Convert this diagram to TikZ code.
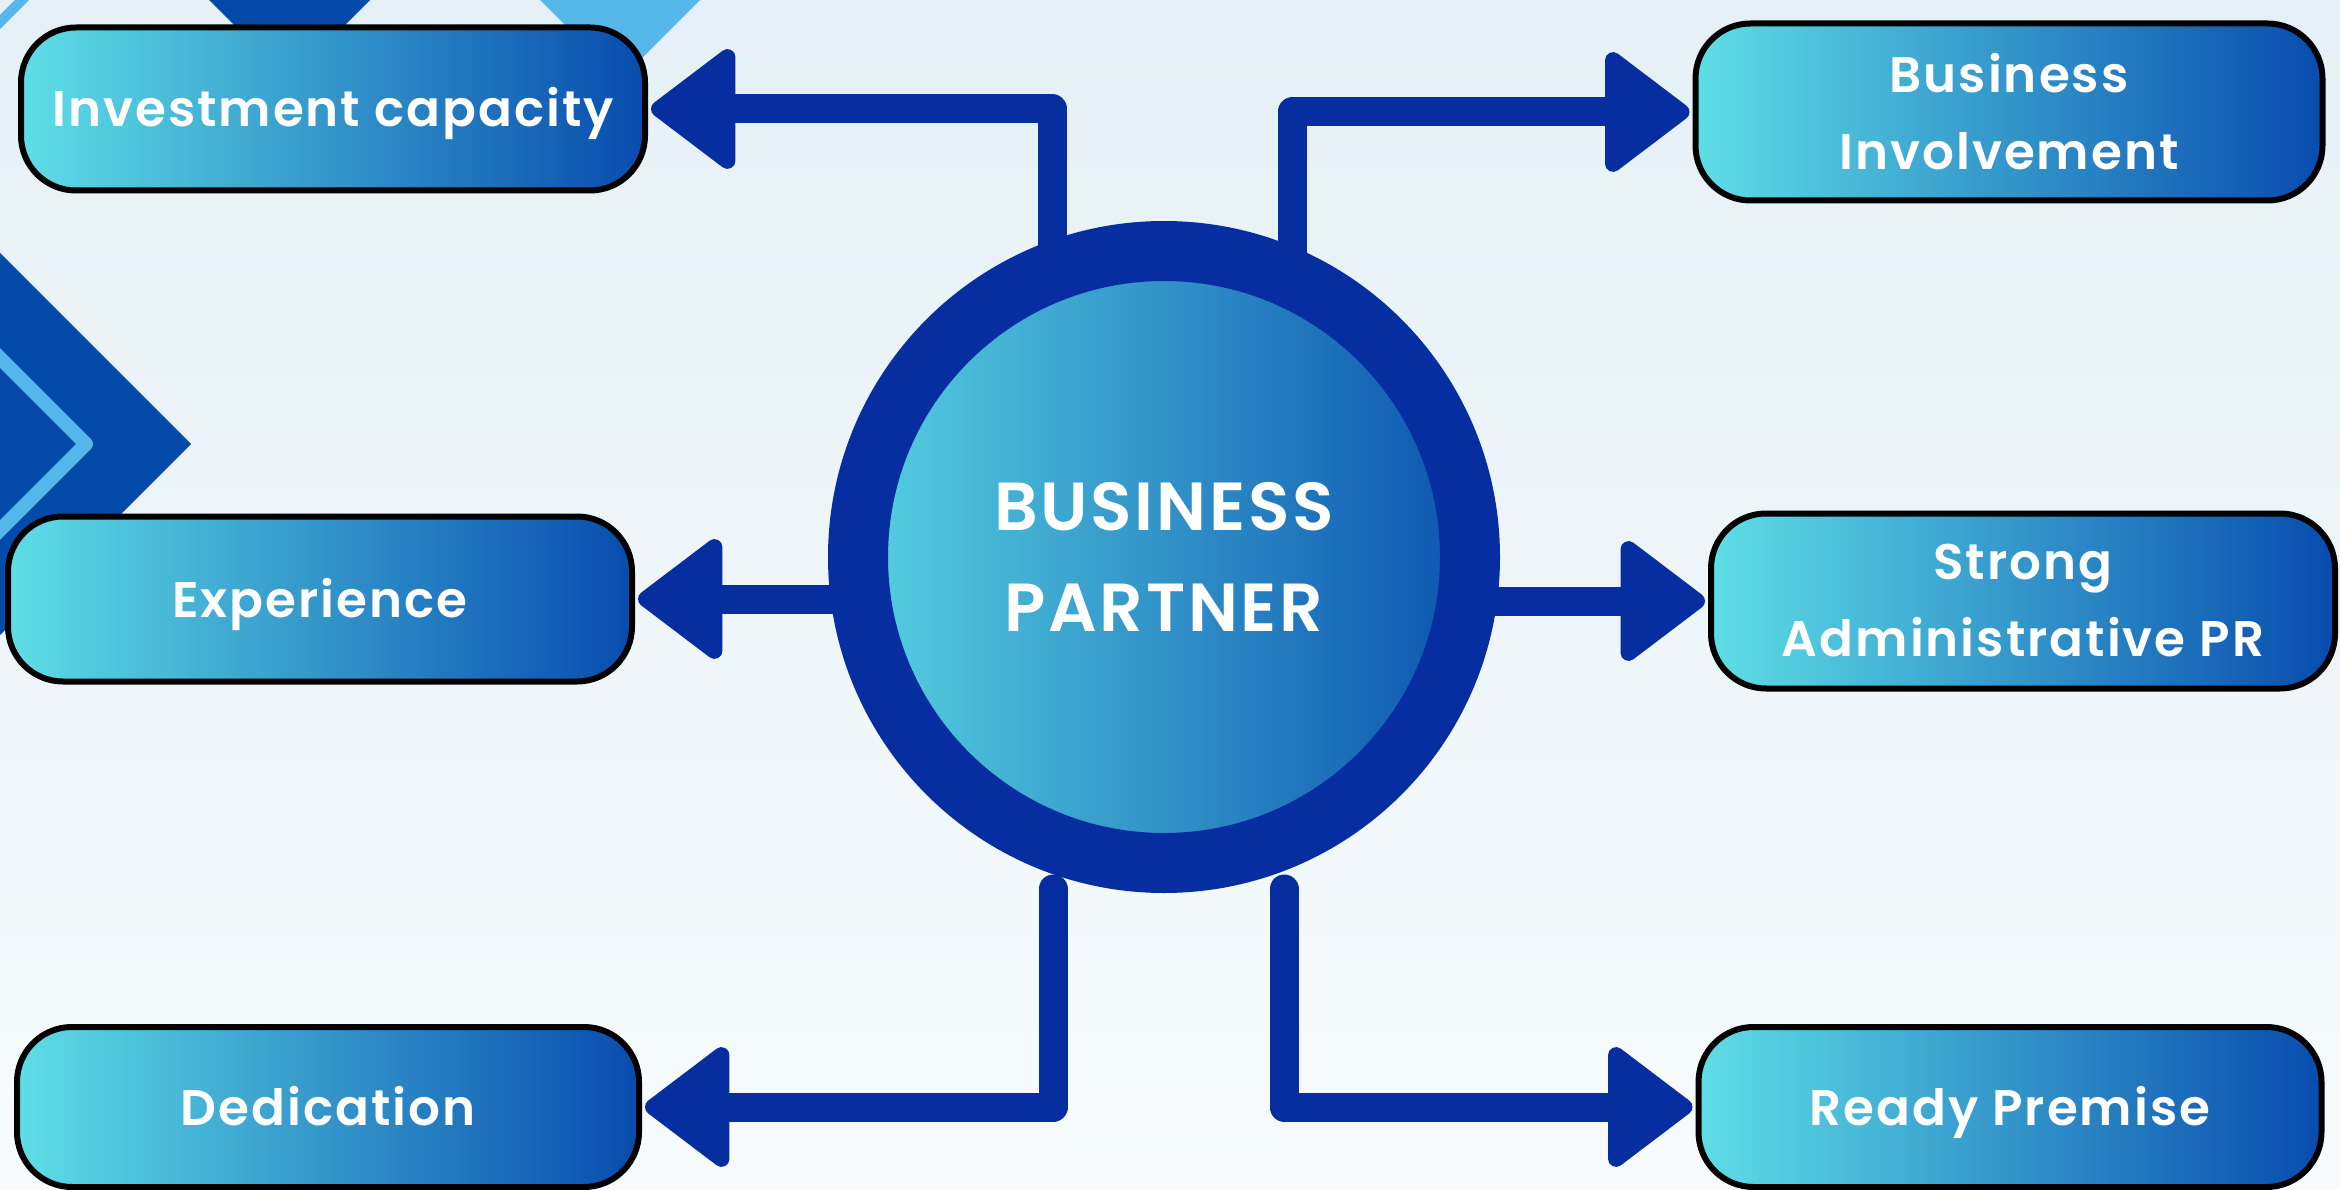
\documentclass[tikz,border=0pt]{standalone}
\usepackage{fontspec}
\setmainfont{Poppins}[LetterSpace=4, BoldFont={Poppins SemiBold}]
\usetikzlibrary{arrows.meta}
\definecolor{ringblue}{RGB}{6,46,160}
\definecolor{boxL}{RGB}{94,222,230}
\definecolor{boxR}{RGB}{8,76,174}
\definecolor{hubL}{RGB}{86,208,224}
\definecolor{hubR}{RGB}{12,84,176}
\definecolor{decoDark}{RGB}{3,74,171}
\definecolor{decoLight}{RGB}{86,183,234}
\definecolor{bgA}{RGB}{229,240,246}
\definecolor{bgB}{RGB}{247,251,253}
\tikzset{
  box/.style={rounded corners=55pt, draw=black, line width=6pt,
    left color=boxL, right color=boxR, text=white,
    font=\bfseries\fontsize{50}{77}\selectfont, align=center,
    inner sep=0pt},
  oneline/.style={text height=36pt, text depth=0pt},
  hub/.style={circle, draw=ringblue, line width=60pt, minimum size=612pt,
    inner sep=0pt, left color=hubL, right color=hubR, text=white,
    font=\bfseries\fontsize{68}{101}\selectfont, align=center},
  conn/.style={draw=ringblue, line width=29pt, line join=round,
    -{Triangle[length=90pt,width=132pt,round,line width=16pt]}, shorten >=3pt},
}
\begin{document}
\begin{tikzpicture}[x=1pt,y=-1pt]
\useasboundingbox (0,0) rectangle (2340,1190);
% background
\fill[top color=bgA, bottom color=bgB] (0,0) rectangle (2340,1190);
% decorations
\fill[decoDark] (209,0) -- (370,0) -- (289.5,80.5) -- cycle;
\fill[decoLight] (540,0) -- (700,0) -- (620,80) -- cycle;
\draw[decoLight, line width=10pt] (-5,27) -- (27,-5);
\fill[decoDark] (0,253) -- (191,444) -- (0,635) -- cycle;
\draw[decoLight, line width=14pt, line join=round] (-5,353) -- (86,444) -- (-5,535);
% boxes
\node[box, oneline, minimum width=624pt, minimum height=163pt] (inv) at (333,109) {Investment capacity};
\node[box, oneline, minimum width=624pt, minimum height=165pt] (exp) at (320,599) {Experience};
\node[box, oneline, minimum width=622pt, minimum height=160pt] (ded) at (328,1107) {Dedication};
\node[box, minimum width=627pt, minimum height=177pt] (biz) at (2009,112) {Business\\Involvement};
\node[box, minimum width=624pt, minimum height=175pt] (str) at (2023,601) {Strong\\Administrative PR};
\node[box, oneline, minimum width=623pt, minimum height=160pt] (rdy) at (2010,1107) {Ready Premise};
% hub centre, used as the connectors' origin
\coordinate (hc) at (1164,557);
% connectors (drawn before the hub)
\draw[conn] ([xshift=-112pt]hc) |- (inv.east);
\draw[conn] ([xshift=128pt]hc) |- (biz.west);
\draw[conn] (hc |- exp.east) -- (exp.east);
\draw[conn] (hc |- str.west) -- (str.west);
\draw[conn, line cap=round] ([xshift=-111pt,yshift=-332pt]hc) |- (ded.east);
\draw[conn, line cap=round] ([xshift=120pt,yshift=-332pt]hc) |- (rdy.west);
% hub
\node[hub] (hub) at (hc) {BUSINESS\\PARTNER};
\end{tikzpicture}
\end{document}
